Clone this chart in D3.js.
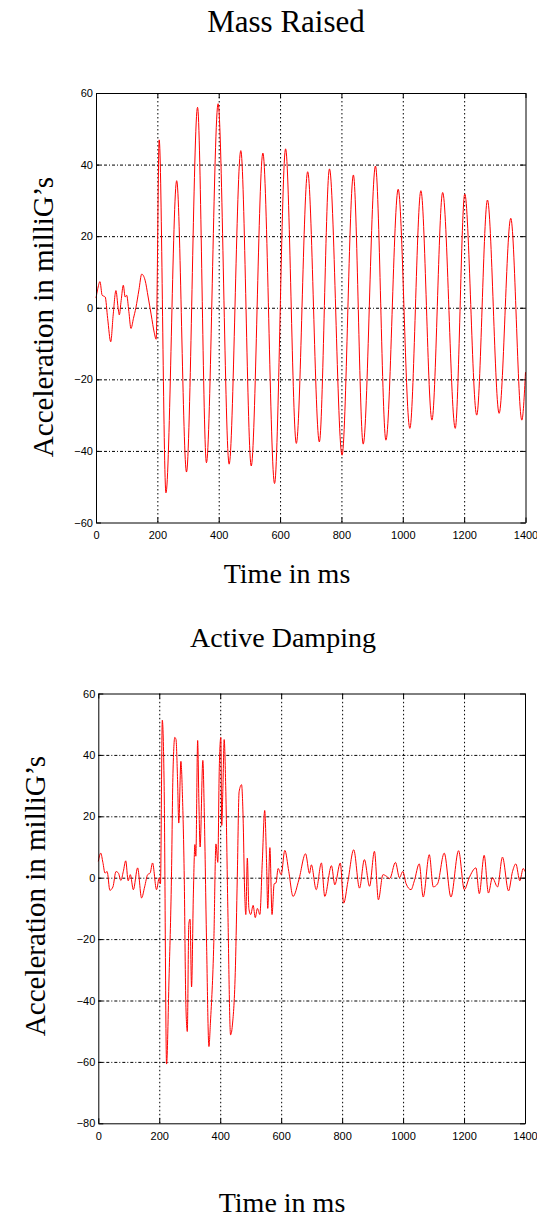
<!DOCTYPE html>
<html>
<head>
<meta charset="utf-8">
<script src="https://cdn.jsdelivr.net/npm/d3@7"></script>
<style>
  body { margin: 0; background: #fff; }
  svg { display: block; }
  .tick text { font-family: "Liberation Sans", Arial, sans-serif; font-size: 11px; fill: #000; }
  .lbl { font-family: "Liberation Serif", "Times New Roman", serif; fill: #000; }
  .grid line { stroke: #000; stroke-width: 1; }
  .grid .domain { display: none; }
</style>
</head>
<body>
<svg id="chart" width="537" height="1219"></svg>
<script>
// x ticks shared by both plots
var timeTicks = [0, 200, 400, 600, 800, 1000, 1200, 1400];

// Mass Raised (ms, milliG)
var massTime = [0, 5, 13, 20, 30, 38, 48, 56, 65, 72, 76, 82, 89, 95, 100, 107, 114, 122, 130, 140, 149, 160, 170, 180, 190, 196,
  206, 228, 263, 295, 331, 360, 398, 434, 472, 506, 544, 582, 618, 653, 690, 728, 761, 802, 839, 871, 911, 945,
  985, 1023, 1059, 1095, 1130, 1171, 1202, 1241, 1276, 1314, 1352, 1388, 1400];
var massAccel = [2.7, 5, 7.3, 3.5, 3, -3, -9.5, -2, 4.8, 0, -2, 2, 6.3, 3, 3.5, -1, -5.8, -3, 0, 5, 9.4, 7.7, 3, -2, -7, -8.8,
  46.9, -51.7, 35.5, -45.9, 56, -43.3, 57, -43.7, 43.9, -44.2, 43.2, -49.1, 44.4, -37.9, 38, -37.5, 38.8, -41.2, 37.1, -38.1, 39.6, -37,
  33.1, -33.7, 32.7, -31.4, 32.2, -33.7, 31.8, -30, 30.1, -29.5, 25, -31.4, -18];
var massYTicks = [-60, -40, -20, 0, 20, 40, 60];

// Active Damping
var dampTime = [0, 8, 15, 22, 29, 38, 48, 58, 66, 74, 82, 90, 98, 105, 115, 129, 142, 152, 162, 170, 178, 191, 200, 204,
  210, 216, 224, 232, 240, 245, 251, 255, 260, 264, 271, 276, 282, 287, 292, 297, 301, 306, 312, 317, 320, 326, 330, 334,
  343, 348, 355, 363, 368, 379, 386, 392, 397, 402, 405, 409, 413, 418, 425, 434, 440, 450, 456, 462, 470, 475, 480, 484,
  489, 494, 500, 508, 515, 522, 530, 538, 546, 552, 556, 563, 570, 577, 583, 590, 600, 612, 625, 639, 658, 680, 693, 699,
  715, 732, 743, 765, 776, 794, 805, 819, 838, 857, 873, 890, 906, 919, 934, 945, 956, 975, 988, 999, 1010, 1026, 1037,
  1053, 1066, 1086, 1099, 1113, 1135, 1157, 1182, 1201, 1217, 1239, 1250, 1266, 1280, 1293, 1310, 1326, 1346, 1359, 1370,
  1383, 1394, 1400];
var dampAccel = [5.3, 8, 5, 1.5, 2, -4.1, -3, 2, 1.5, -0.9, 2, 5.5, -1, 1, -3.9, 3.2, -6.6, -3, 1, 1.5, 4.8, -3.9, 0, -2,
  51.3, 30, -60.7, -33, 0, 34, 45.7, 45, 32, 17.8, 37.9, 27, 0, -40, -50.1, -15, -13.5, -35.6, -5, 10.8, 7, 44.7, 25, 10,
  38.2, 20, -20, -55, -47, -21, 11, 5, 36, 45.7, 17, 30, 45, 30, -10, -51.2, -48, -28.7, 0, 28, 30.3, 20, -4, -12,
  6.4, -10, -12, -9, -13, -10, -12, 5, 21.9, 5, -10, 9.8, -12, -2, -1.7, 3, 1, 8.9, 2, -6.1, -0.7, 7.8, 1.4, 4.2,
  -3.9, 4.8, -6.1, 3.9, -2.3, 4.8, -8.3, -1.2, 9.1, -3.4, 5.9, -2.8, 8.6, -7.2, 1, 0.5, -0.3, 5, 0, 2, -2, -3.9, -1,
  4.5, -6.3, 7.5, -3, -2, 8, -6.3, 8.8, -3.9, 0, 3.2, -5.2, 7.3, -5, 0, -3, 6.7, -4.3, 2, 4.5,
  -1, 3, 2];
var dampYTicks = [-80, -60, -40, -20, 0, 20, 40, 60];

var svg = d3.select("#chart");
var fmt = d3.format("d");

function drawPanel(p) {
  var x = d3.scaleLinear().domain([0, 1400]).range([p.left, p.right]);
  var y = d3.scaleLinear().domain(p.yDomain).range([p.bottom, p.top]);
  var w = p.right - p.left, h = p.bottom - p.top;
  var g = svg.append("g");

  // dotted grid
  g.append("g").attr("class", "grid")
      .attr("transform", "translate(0," + p.bottom + ")")
      .call(d3.axisBottom(x).tickValues(timeTicks.slice(1, -1)).tickSize(-h).tickFormat(""))
      .selectAll("line").attr("stroke-dasharray", "1.5,2.5");
  g.append("g").attr("class", "grid")
      .attr("transform", "translate(" + p.left + ",0)")
      .call(d3.axisLeft(y).tickValues(p.yTicks.slice(1, -1)).tickSize(-w).tickFormat(""))
      .selectAll("line").attr("stroke-dasharray", "3,2,1,2");

  // the signal
  var line = d3.line()
      .curve(d3.curveMonotoneX)
      .x(function(d, i) { return x(p.time[i]); })
      .y(function(d) { return y(d); });
  g.append("path")
      .datum(p.accel)
      .attr("fill", "none")
      .attr("stroke", "#ff0000")
      .attr("stroke-width", 1)
      .attr("d", line);

  // box with inner ticks on all sides
  g.append("g").attr("transform", "translate(0," + p.bottom + ")")
      .call(d3.axisBottom(x).tickValues(timeTicks).tickFormat(fmt).tickSizeInner(-5).tickSizeOuter(0).tickPadding(8.5));
  g.append("g").attr("transform", "translate(0," + p.top + ")")
      .call(d3.axisTop(x).tickValues(timeTicks).tickSizeInner(-5).tickSizeOuter(0).tickFormat(""));
  g.append("g").attr("transform", "translate(" + p.left + ",0)")
      .call(d3.axisLeft(y).tickValues(p.yTicks).tickFormat(fmt).tickSizeInner(-5).tickSizeOuter(0).tickPadding(3));
  g.append("g").attr("transform", "translate(" + p.right + ",0)")
      .call(d3.axisRight(y).tickValues(p.yTicks).tickSizeInner(-5).tickSizeOuter(0).tickFormat(""));
  g.selectAll(".domain, .tick line").filter(function() { return !this.closest(".grid"); })
      .attr("stroke", "#000");

  svg.append("text").attr("class", "lbl")
      .attr("x", p.titleX).attr("y", p.titleY)
      .attr("text-anchor", "middle").style("font-size", p.titleSize + "px")
      .text(p.title);
  svg.append("text").attr("class", "lbl")
      .attr("x", p.xLabelX).attr("y", p.xLabelY)
      .attr("text-anchor", "middle").style("font-size", "28px")
      .text("Time in ms");
  svg.append("text").attr("class", "lbl")
      .attr("transform", "translate(" + p.yLabelX + "," + p.yLabelY + ") rotate(-90)")
      .attr("text-anchor", "middle").style("font-size", "29px")
      .text("Acceleration in milliG’s");
}

drawPanel({
  title: "Mass Raised", titleX: 286, titleY: 31.5, titleSize: 31,
  xLabelX: 287, xLabelY: 583, yLabelX: 52.5, yLabelY: 317,
  left: 96, right: 525.5, top: 93, bottom: 522.5,
  yDomain: [-60, 60], yTicks: massYTicks,
  time: massTime, accel: massAccel
});

drawPanel({
  title: "Active Damping", titleX: 283, titleY: 646.5, titleSize: 28,
  xLabelX: 282, xLabelY: 1212, yLabelX: 45, yLabelY: 896,
  left: 98.3, right: 525, top: 693.5, bottom: 1123.3,
  yDomain: [-80, 60], yTicks: dampYTicks,
  time: dampTime, accel: dampAccel
});
</script>
</body>
</html>
